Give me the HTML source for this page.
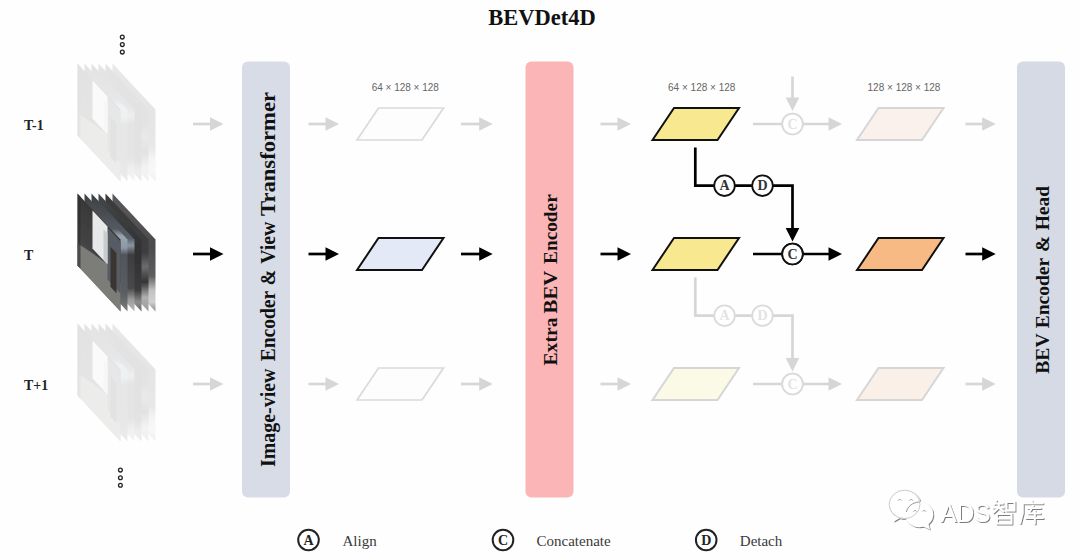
<!DOCTYPE html>
<html><head><meta charset="utf-8"><title>BEVDet4D</title>
<style>
html,body{margin:0;padding:0;background:#fefefe;}
body{width:1080px;height:560px;overflow:hidden;font-family:"Liberation Sans",sans-serif;}
svg{display:block}
</style></head><body>
<svg width="1080" height="560" viewBox="0 0 1080 560">
<rect width="1080" height="560" fill="#fefefe"/>
<defs>
<linearGradient id="sky" x1="0" y1="0" x2="0" y2="1"><stop offset="0" stop-color="#383838"/><stop offset="0.6" stop-color="#444445"/><stop offset="1" stop-color="#6a6a68"/></linearGradient>
<linearGradient id="p1" x1="0" y1="0" x2="0" y2="1"><stop offset="0" stop-color="#3e4044"/><stop offset="0.3" stop-color="#55595f"/><stop offset="0.36" stop-color="#9aa5b2"/><stop offset="0.46" stop-color="#8e99a6"/><stop offset="0.52" stop-color="#50555b"/><stop offset="0.85" stop-color="#5a5e63"/><stop offset="1" stop-color="#7c7c7c"/></linearGradient>
<linearGradient id="p2" x1="0" y1="0" x2="0" y2="1"><stop offset="0" stop-color="#3c3e42"/><stop offset="0.38" stop-color="#596069"/><stop offset="0.44" stop-color="#8a94a0"/><stop offset="0.52" stop-color="#3d3e41"/><stop offset="0.8" stop-color="#48484a"/><stop offset="0.9" stop-color="#9c9c9c"/><stop offset="1" stop-color="#b8b8b8"/></linearGradient>
<linearGradient id="p3" x1="0" y1="0" x2="0" y2="1"><stop offset="0" stop-color="#454749"/><stop offset="0.5" stop-color="#303031"/><stop offset="0.82" stop-color="#3c3c3c"/><stop offset="0.92" stop-color="#8c8c8c"/><stop offset="1" stop-color="#6a6a6a"/></linearGradient>
<linearGradient id="p4" x1="0" y1="0" x2="0" y2="1"><stop offset="0" stop-color="#3a3a3c"/><stop offset="0.5" stop-color="#3c3d40"/><stop offset="0.62" stop-color="#6b6c6e"/><stop offset="0.75" stop-color="#353535"/><stop offset="0.88" stop-color="#b0b0b0"/><stop offset="1" stop-color="#9a9a9a"/></linearGradient>
<linearGradient id="p5" x1="0" y1="0" x2="0" y2="1"><stop offset="0" stop-color="#58595b"/><stop offset="0.45" stop-color="#4c4c4e"/><stop offset="0.7" stop-color="#5e5e5e"/><stop offset="0.82" stop-color="#c2c2c2"/><stop offset="0.92" stop-color="#d0d0d0"/><stop offset="1" stop-color="#8a8a8a"/></linearGradient>
<filter id="wm" x="-10%" y="-10%" width="120%" height="130%"><feDropShadow dx="0.9" dy="0.9" stdDeviation="0.45" flood-color="#555" flood-opacity="0.85"/></filter>
<filter id="soft" x="-5%" y="-5%" width="110%" height="110%"><feGaussianBlur stdDeviation="0.55"/></filter>

<g id="stk">
<polygon points="112.5,0 155.5,46 155.5,118 112.5,72" fill="url(#p5)"/>
<polygon points="105.5,0 148.5,46 148.5,118 105.5,72" fill="url(#p4)"/>
<polygon points="98.5,0 141.5,46 141.5,118 98.5,72" fill="url(#p3)"/>
<polygon points="91.5,0 134.5,46 134.5,118 91.5,72" fill="url(#p2)"/>
<polygon points="84.5,0 127.5,46 127.5,118 84.5,72" fill="url(#p1)"/>
<g transform="translate(77.5,0) skewY(46.93)"><rect x="0" y="0" width="43" height="72" fill="url(#sky)"/><polygon points="0,50 14,44 32,38 43,44 43,72 0,72" fill="#7b7b79"/><rect x="30" y="2" width="13" height="52" fill="#565c63"/><rect x="33" y="18" width="6" height="40" fill="#3b3433"/><rect x="15" y="1" width="15" height="38" fill="#e6e8e9"/><rect x="26" y="8" width="4" height="30" fill="#c9cccd"/><rect x="0" y="0" width="3" height="72" fill="#2c2c2c" opacity="0.6"/></g>
</g>
</defs>
<rect x="242" y="61.5" width="48" height="436" rx="6" fill="#d7dce7"/>
<rect x="525.5" y="61.5" width="48" height="436" rx="6" fill="#fcb5b6"/>
<rect x="1017" y="61.5" width="48" height="436" rx="6" fill="#d5dae4"/>
<text transform="translate(274.5,467) rotate(-90)" font-family="Liberation Serif" font-weight="bold" font-size="22" fill="#111" textLength="98.5" lengthAdjust="spacingAndGlyphs">Image-view</text>
<text transform="translate(274.5,361.3) rotate(-90)" font-family="Liberation Serif" font-weight="bold" font-size="22" fill="#111" textLength="70.5" lengthAdjust="spacingAndGlyphs">Encoder</text>
<text transform="translate(274.5,285.2) rotate(-90)" font-family="Liberation Serif" font-weight="bold" font-size="22" fill="#111" textLength="15.5" lengthAdjust="spacingAndGlyphs">&amp;</text>
<text transform="translate(274.5,263.8) rotate(-90)" font-family="Liberation Serif" font-weight="bold" font-size="22" fill="#111" textLength="42.2" lengthAdjust="spacingAndGlyphs">View</text>
<text transform="translate(274.5,216) rotate(-90)" font-family="Liberation Serif" font-weight="bold" font-size="22" fill="#111" textLength="124" lengthAdjust="spacingAndGlyphs">Transformer</text>
<text transform="translate(557.2,365.5) rotate(-90)" font-family="Liberation Serif" font-weight="bold" font-size="19.7" fill="#111" textLength="48" lengthAdjust="spacingAndGlyphs">Extra</text>
<text transform="translate(557.2,313.4) rotate(-90)" font-family="Liberation Serif" font-weight="bold" font-size="19.7" fill="#111" textLength="42.6" lengthAdjust="spacingAndGlyphs">BEV</text>
<text transform="translate(557.2,263.9) rotate(-90)" font-family="Liberation Serif" font-weight="bold" font-size="19.7" fill="#111" textLength="69.6" lengthAdjust="spacingAndGlyphs">Encoder</text>
<text transform="translate(1048.5,373.8) rotate(-90)" font-family="Liberation Serif" font-weight="bold" font-size="19.7" fill="#111" textLength="40.5" lengthAdjust="spacingAndGlyphs">BEV</text>
<text transform="translate(1048.5,328.3) rotate(-90)" font-family="Liberation Serif" font-weight="bold" font-size="19.7" fill="#111" textLength="70.5" lengthAdjust="spacingAndGlyphs">Encoder</text>
<text transform="translate(1048.5,252) rotate(-90)" font-family="Liberation Serif" font-weight="bold" font-size="19.7" fill="#111" textLength="16.3" lengthAdjust="spacingAndGlyphs">&amp;</text>
<text transform="translate(1048.5,230.3) rotate(-90)" font-family="Liberation Serif" font-weight="bold" font-size="19.7" fill="#111" textLength="44.3" lengthAdjust="spacingAndGlyphs">Head</text>
<text x="542" y="25" text-anchor="middle" font-family="Liberation Serif" font-weight="bold" font-size="22.5" fill="#111">BEVDet4D</text>
<text x="24" y="129.5" font-family="Liberation Serif" font-weight="bold" font-size="14.6" fill="#222" textLength="19.6" lengthAdjust="spacingAndGlyphs">T-1</text>
<text x="24" y="259.5" font-family="Liberation Serif" font-weight="bold" font-size="14.6" fill="#222" textLength="9.3" lengthAdjust="spacingAndGlyphs">T</text>
<text x="24" y="389.5" font-family="Liberation Serif" font-weight="bold" font-size="14.6" fill="#222" textLength="24.2" lengthAdjust="spacingAndGlyphs">T+1</text>
<circle cx="122.3" cy="37.1" r="1.9" fill="#fff" stroke="#222" stroke-width="1.3"/>
<circle cx="122.3" cy="44.6" r="1.9" fill="#fff" stroke="#222" stroke-width="1.3"/>
<circle cx="122.3" cy="52.1" r="1.9" fill="#fff" stroke="#222" stroke-width="1.3"/>
<circle cx="120.4" cy="470.1" r="1.9" fill="#fff" stroke="#222" stroke-width="1.3"/>
<circle cx="120.4" cy="477.7" r="1.9" fill="#fff" stroke="#222" stroke-width="1.3"/>
<circle cx="120.4" cy="485.2" r="1.9" fill="#fff" stroke="#222" stroke-width="1.3"/>
<use href="#stk" y="63.5" opacity="0.135" filter="url(#soft)"/>
<use href="#stk" y="193.5" filter="url(#soft)"/>
<use href="#stk" y="323.5" opacity="0.135" filter="url(#soft)"/>
<line x1="193" y1="124" x2="211.0" y2="124" stroke="#d6d6d6" stroke-width="2.7"/><polygon points="210.0,117.2 223.5,124 210.0,130.8" fill="#d6d6d6"/>
<line x1="308.5" y1="124" x2="326.5" y2="124" stroke="#d6d6d6" stroke-width="2.7"/><polygon points="325.5,117.2 339,124 325.5,130.8" fill="#d6d6d6"/>
<line x1="461" y1="124" x2="480.2" y2="124" stroke="#d6d6d6" stroke-width="2.7"/><polygon points="479.2,117.2 492.7,124 479.2,130.8" fill="#d6d6d6"/>
<line x1="600.5" y1="124" x2="618.5" y2="124" stroke="#d6d6d6" stroke-width="2.7"/><polygon points="617.5,117.2 631,124 617.5,130.8" fill="#d6d6d6"/>
<line x1="965.5" y1="124" x2="983.2" y2="124" stroke="#d6d6d6" stroke-width="2.7"/><polygon points="982.2,117.2 995.7,124 982.2,130.8" fill="#d6d6d6"/>
<line x1="753" y1="124" x2="829.5" y2="124" stroke="#d6d6d6" stroke-width="2.7"/><polygon points="828.5,117.2 842,124 828.5,130.8" fill="#d6d6d6"/>
<circle cx="792.5" cy="124" r="10.3" fill="#ffffff" stroke="#dbdbdb" stroke-width="1.8"/><text x="792.5" y="128.6" text-anchor="middle" font-family="Liberation Serif" font-weight="bold" font-size="14" fill="#e3e3e3">C</text>
<polygon points="357,140.0 378.5,108.0 443.5,108.0 422,140.0" fill="#fdfdfe" stroke="#dadada" stroke-width="1.7" stroke-linejoin="miter"/>
<polygon points="652.5,140.0 674.0,108.0 739.0,108.0 717.5,140.0" fill="#f8e88f" stroke="#111" stroke-width="2" stroke-linejoin="miter"/>
<polygon points="857,140.0 878.5,108.0 943.5,108.0 922,140.0" fill="#faf0ec" stroke="#d6d6d6" stroke-width="2" stroke-linejoin="miter"/>
<line x1="193" y1="254" x2="211.0" y2="254" stroke="#000000" stroke-width="2.7"/><polygon points="210.0,247.2 223.5,254 210.0,260.8" fill="#000000"/>
<line x1="308.5" y1="254" x2="326.5" y2="254" stroke="#000000" stroke-width="2.7"/><polygon points="325.5,247.2 339,254 325.5,260.8" fill="#000000"/>
<line x1="461" y1="254" x2="480.2" y2="254" stroke="#000000" stroke-width="2.7"/><polygon points="479.2,247.2 492.7,254 479.2,260.8" fill="#000000"/>
<line x1="600.5" y1="254" x2="618.5" y2="254" stroke="#000000" stroke-width="2.7"/><polygon points="617.5,247.2 631,254 617.5,260.8" fill="#000000"/>
<line x1="965.5" y1="254" x2="983.2" y2="254" stroke="#000000" stroke-width="2.7"/><polygon points="982.2,247.2 995.7,254 982.2,260.8" fill="#000000"/>
<line x1="753" y1="254" x2="829.5" y2="254" stroke="#000000" stroke-width="2.7"/><polygon points="828.5,247.2 842,254 828.5,260.8" fill="#000000"/>
<circle cx="792.5" cy="254" r="10.3" fill="#ffffff" stroke="#111" stroke-width="1.8"/><text x="792.5" y="258.6" text-anchor="middle" font-family="Liberation Serif" font-weight="bold" font-size="14" fill="#333">C</text>
<polygon points="357,270.0 378.5,238.0 443.5,238.0 422,270.0" fill="#e4e9f8" stroke="#111" stroke-width="2" stroke-linejoin="miter"/>
<polygon points="652.5,270.0 674.0,238.0 739.0,238.0 717.5,270.0" fill="#f8e88f" stroke="#111" stroke-width="2" stroke-linejoin="miter"/>
<polygon points="857,270.0 878.5,238.0 943.5,238.0 922,270.0" fill="#f8ba84" stroke="#111" stroke-width="2" stroke-linejoin="miter"/>
<line x1="193" y1="384" x2="211.0" y2="384" stroke="#d6d6d6" stroke-width="2.7"/><polygon points="210.0,377.2 223.5,384 210.0,390.8" fill="#d6d6d6"/>
<line x1="308.5" y1="384" x2="326.5" y2="384" stroke="#d6d6d6" stroke-width="2.7"/><polygon points="325.5,377.2 339,384 325.5,390.8" fill="#d6d6d6"/>
<line x1="461" y1="384" x2="480.2" y2="384" stroke="#d6d6d6" stroke-width="2.7"/><polygon points="479.2,377.2 492.7,384 479.2,390.8" fill="#d6d6d6"/>
<line x1="600.5" y1="384" x2="618.5" y2="384" stroke="#d6d6d6" stroke-width="2.7"/><polygon points="617.5,377.2 631,384 617.5,390.8" fill="#d6d6d6"/>
<line x1="965.5" y1="384" x2="983.2" y2="384" stroke="#d6d6d6" stroke-width="2.7"/><polygon points="982.2,377.2 995.7,384 982.2,390.8" fill="#d6d6d6"/>
<line x1="753" y1="384" x2="829.5" y2="384" stroke="#d6d6d6" stroke-width="2.7"/><polygon points="828.5,377.2 842,384 828.5,390.8" fill="#d6d6d6"/>
<circle cx="792.5" cy="384" r="10.3" fill="#ffffff" stroke="#dbdbdb" stroke-width="1.8"/><text x="792.5" y="388.6" text-anchor="middle" font-family="Liberation Serif" font-weight="bold" font-size="14" fill="#e3e3e3">C</text>
<polygon points="357,400.0 378.5,368.0 443.5,368.0 422,400.0" fill="#fdfdfe" stroke="#dadada" stroke-width="1.7" stroke-linejoin="miter"/>
<polygon points="652.5,400.0 674.0,368.0 739.0,368.0 717.5,400.0" fill="#fbfae6" stroke="#d6d6d6" stroke-width="2" stroke-linejoin="miter"/>
<polygon points="857,400.0 878.5,368.0 943.5,368.0 922,400.0" fill="#faf0e8" stroke="#d6d6d6" stroke-width="2" stroke-linejoin="miter"/>
<line x1="792.5" y1="76.5" x2="792.5" y2="98.5" stroke="#d6d6d6" stroke-width="2.7"/><polygon points="785.7,97.5 792.5,111 799.3,97.5" fill="#d6d6d6"/>
<circle cx="792.5" cy="124" r="10.3" fill="#ffffff" stroke="#dbdbdb" stroke-width="1.8"/><text x="792.5" y="128.6" text-anchor="middle" font-family="Liberation Serif" font-weight="bold" font-size="14" fill="#e3e3e3">C</text>
<polyline points="695.3,147.5 695.3,185.7 792.5,185.7 792.5,229.5" fill="none" stroke="#000" stroke-width="2.7" stroke-linejoin="miter"/>
<polygon points="785.7,228.0 792.5,241.5 799.3,228.0" fill="#000"/>
<circle cx="724.5" cy="185.7" r="10.3" fill="#ffffff" stroke="#111" stroke-width="1.8"/><text x="724.5" y="190.3" text-anchor="middle" font-family="Liberation Serif" font-weight="bold" font-size="14" fill="#333">A</text>
<circle cx="762.5" cy="185.7" r="10.3" fill="#ffffff" stroke="#111" stroke-width="1.8"/><text x="762.5" y="190.3" text-anchor="middle" font-family="Liberation Serif" font-weight="bold" font-size="14" fill="#333">D</text>
<polyline points="695.3,277.5 695.3,315.7 792.5,315.7 792.5,359.5" fill="none" stroke="#d6d6d6" stroke-width="2.7" stroke-linejoin="miter"/>
<polygon points="785.7,358.0 792.5,371.5 799.3,358.0" fill="#d6d6d6"/>
<circle cx="724.5" cy="315.7" r="10.3" fill="#ffffff" stroke="#dbdbdb" stroke-width="1.8"/><text x="724.5" y="320.3" text-anchor="middle" font-family="Liberation Serif" font-weight="bold" font-size="14" fill="#e3e3e3">A</text>
<circle cx="762.5" cy="315.7" r="10.3" fill="#ffffff" stroke="#dbdbdb" stroke-width="1.8"/><text x="762.5" y="320.3" text-anchor="middle" font-family="Liberation Serif" font-weight="bold" font-size="14" fill="#e3e3e3">D</text>
<circle cx="792.5" cy="254" r="10.3" fill="#ffffff" stroke="#111" stroke-width="1.8"/><text x="792.5" y="258.6" text-anchor="middle" font-family="Liberation Serif" font-weight="bold" font-size="14" fill="#333">C</text>
<circle cx="792.5" cy="384" r="10.3" fill="#ffffff" stroke="#dbdbdb" stroke-width="1.8"/><text x="792.5" y="388.6" text-anchor="middle" font-family="Liberation Serif" font-weight="bold" font-size="14" fill="#e3e3e3">C</text>
<text x="405.3" y="91" text-anchor="middle" font-family="Liberation Sans" font-size="10" fill="#666">64 × 128 × 128</text>
<text x="701.7" y="91" text-anchor="middle" font-family="Liberation Sans" font-size="10" fill="#666">64 × 128 × 128</text>
<text x="904" y="91" text-anchor="middle" font-family="Liberation Sans" font-size="10" fill="#666">128 × 128 × 128</text>
<circle cx="308.5" cy="540" r="10.3" fill="#ffffff" stroke="#222" stroke-width="2"/><text x="308.5" y="544.6" text-anchor="middle" font-family="Liberation Serif" font-weight="bold" font-size="14" fill="#222">A</text>
<text x="342.5" y="546" font-family="Liberation Serif" font-size="15" fill="#3a3a3a">Align</text>
<circle cx="503" cy="540" r="10.3" fill="#ffffff" stroke="#222" stroke-width="2"/><text x="503" y="544.6" text-anchor="middle" font-family="Liberation Serif" font-weight="bold" font-size="14" fill="#222">C</text>
<text x="536.5" y="546" font-family="Liberation Serif" font-size="15" fill="#3a3a3a">Concatenate</text>
<circle cx="706.2" cy="540" r="10.3" fill="#ffffff" stroke="#222" stroke-width="2"/><text x="706.2" y="544.6" text-anchor="middle" font-family="Liberation Serif" font-weight="bold" font-size="14" fill="#222">D</text>
<text x="739.8" y="546" font-family="Liberation Serif" font-size="15" fill="#3a3a3a">Detach</text>
<g filter="url(#wm)" fill="none" stroke="#ffffff" stroke-width="1.7" stroke-linecap="square">
<path d="M904.6,490.8 C896,490.8 889.8,496.6 889.8,504 C889.8,508.4 892,512 895.6,514.6 L894.6,520 L899.6,517.2 C901.2,517.7 902.9,518 904.6,518 C913.2,518 919.6,511.4 919.6,504 C919.6,496.6 913.2,490.8 904.6,490.8 Z" fill="#ffffff"/>
<path d="M919.2,502.6 C911.8,502.6 906,507.8 906,514.5 C906,521.2 911.8,526.4 919.2,526.4 C920.8,526.4 922.3,526.1 923.8,525.7 L928.6,528 L927.6,523.8 C930.6,521.6 932.4,518.2 932.4,514.5 C932.4,507.8 926.6,502.6 919.2,502.6 Z" fill="#ffffff"/>
</g>
<g fill="none" stroke="#b5b5b5" stroke-width="0.7"><ellipse cx="904.6" cy="504.4" rx="15.4" ry="14.2"/><path d="M906.4,512 C907.4,506.6 912.6,502.4 919.2,502 " stroke="#8a8a8a" stroke-width="0.9"/></g>
<path d="M898.1,500.6 a1.7,1.7 0 0 1 3.2,0" fill="none" stroke="#9a9a9a" stroke-width="0.9"/>
<path d="M909.6999999999999,500.6 a1.7,1.7 0 0 1 3.2,0" fill="none" stroke="#9a9a9a" stroke-width="0.9"/>
<path d="M913.3,511.6 a1.7,1.7 0 0 1 3.2,0" fill="none" stroke="#9a9a9a" stroke-width="0.9"/>
<path d="M922.6999999999999,511.6 a1.7,1.7 0 0 1 3.2,0" fill="none" stroke="#9a9a9a" stroke-width="0.9"/>
<text x="940.5" y="521.6" font-family="Liberation Sans" font-size="26.5" fill="#ffffff" filter="url(#wm)" textLength="50" lengthAdjust="spacingAndGlyphs">ADS</text>
<g filter="url(#wm)" fill="none" stroke="#ffffff" stroke-width="1.8" stroke-linecap="butt" stroke-linejoin="miter">
<path transform="translate(992,499.5) scale(1.0,1.0)" d="M4.5,0.5 L2,5 M3,4 L11.5,4 M0.5,8 L12.5,8 M6.8,4 L6.8,8 L1,13.5 M7.2,8.3 L12,12.5 M14.5,2.5 L22.5,2.5 L22.5,11 L14.5,11 Z M5,14.5 L19.5,14.5 L19.5,24 L5,24 Z M5,19.2 L19.5,19.2" vector-effect="non-scaling-stroke"/>
<path transform="translate(1019.8,500.2) scale(1.0,1.0)" d="M12,0 L12,3 M3,3.2 L23.5,3.2 M3,3.2 L3,13 L0.3,23.5 M7.5,8 L21.5,8 M13.5,5 L9,13.2 L21,13.2 M5.5,18 L23.8,18 M15,10 L15,24" vector-effect="non-scaling-stroke"/>
</g>
</svg>
</body></html>
